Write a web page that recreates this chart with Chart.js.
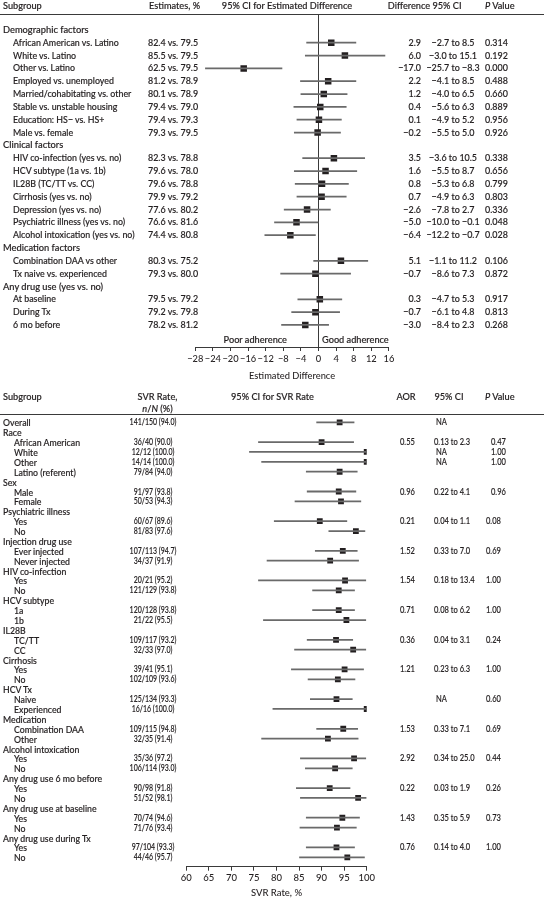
<!DOCTYPE html>
<html><head><meta charset="utf-8">
<script src="https://cdn.jsdelivr.net/npm/chart.js@4.4.1/dist/chart.umd.min.js"></script>
<style>
html,body{margin:0;padding:0;background:#fff;}
#wrap{position:relative;width:544px;height:900px;overflow:hidden;font-family:Lato,"Noto Sans",sans-serif;color:#231f20;font-weight:500;}
canvas{position:absolute;left:0;}
.t{position:absolute;white-space:nowrap;line-height:1;-webkit-text-stroke:0.15px #231f20;}
.rule{position:absolute;left:0;width:544px;height:1px;background:#3a3a3a;}
</style></head><body>
<div id="wrap">
<canvas id="cTop" width="544" height="400" style="top:0px"></canvas>
<canvas id="cBot" width="544" height="500" style="top:400px"></canvas>
</div>
<script>
// ---------------- DATA: top panel ----------------
const topLabels = ['Demographic factors','African American vs. Latino','White vs. Latino','Other vs. Latino','Employed vs. unemployed','Married/cohabitating vs. other','Stable vs. unstable housing','Education: HS\u2212 vs. HS+','Male vs. female','Clinical factors','HIV co-infection (yes vs. no)','HCV subtype (1a vs. 1b)','IL28B (TC/TT vs. CC)','Cirrhosis (yes vs. no)','Depression (yes vs. no)','Psychiatric illness (yes vs. no)','Alcohol intoxication (yes vs. no)','Medication factors','Combination DAA vs other','Tx naive vs. experienced','Any drug use (yes vs. no)','At baseline','During Tx','6 mo before'];
const topEstimates = ['','82.4 vs. 79.5','85.5 vs. 79.5','62.5 vs. 79.5','81.2 vs. 78.9','80.1 vs. 78.9','79.4 vs. 79.0','79.4 vs. 79.3','79.3 vs. 79.5','','82.3 vs. 78.8','79.6 vs. 78.0','79.6 vs. 78.8','79.9 vs. 79.2','77.6 vs. 80.2','76.6 vs. 81.6','74.4 vs. 80.8','','80.3 vs. 75.2','79.3 vs. 80.0','','79.5 vs. 79.2','79.2 vs. 79.8','78.2 vs. 81.2'];
const topDiff = [null,2.9,6.0,-17.0,2.2,1.2,0.4,0.1,-0.2,null,3.5,1.6,0.8,0.7,-2.6,-5.0,-6.4,null,5.1,-0.7,null,0.3,-0.7,-3.0];
const topLow  = [null,-2.7,-3.0,-25.7,-4.1,-4.0,-5.6,-4.9,-5.5,null,-3.6,-5.5,-5.3,-4.9,-7.8,-10.0,-12.2,null,-1.1,-8.6,null,-4.7,-6.1,-8.4];
const topHigh = [null,8.5,15.1,-8.3,8.5,6.5,6.3,5.2,5.0,null,10.5,8.7,6.8,6.3,2.7,-0.1,-0.7,null,11.2,7.3,null,5.3,4.8,2.3];
const topP = ['','0.314','0.192','0.000','0.488','0.660','0.889','0.956','0.926','','0.338','0.656','0.799','0.803','0.336','0.048','0.028','','0.106','0.872','','0.917','0.813','0.268'];
const topTickValues = [-28,-24,-20,-16,-12,-8,-4,0,4,8,12,16];

// ---------------- DATA: bottom panel ----------------
const botLabels = ['Overall','Race','African American','White','Other','Latino (referent)','Sex','Male','Female','Psychiatric illness','Yes','No','Injection drug use','Ever injected','Never injected','HIV co-infection','Yes','No','HCV subtype','1a','1b','IL28B','TC/TT','CC','Cirrhosis','Yes','No','HCV Tx','Naive','Experienced','Medication','Combination DAA','Other','Alcohol intoxication','Yes','No','Any drug use 6 mo before','Yes','No','Any drug use at baseline','Yes','No','Any drug use during Tx','Yes','No'];
const botLevel = [0,0,1,1,1,1,0,1,1,0,1,1,0,1,1,0,1,1,0,1,1,0,1,1,0,1,1,0,1,1,0,1,1,0,1,1,0,1,1,0,1,1,0,1,1];
const botSVR = ['141/150 (94.0)','','36/40 (90.0)','12/12 (100.0)','14/14 (100.0)','79/84 (94.0)','','91/97 (93.8)','50/53 (94.3)','','60/67 (89.6)','81/83 (97.6)','','107/113 (94.7)','34/37 (91.9)','','20/21 (95.2)','121/129 (93.8)','','120/128 (93.8)','21/22 (95.5)','','109/117 (93.2)','32/33 (97.0)','','39/41 (95.1)','102/109 (93.6)','','125/134 (93.3)','16/16 (100.0)','','109/115 (94.8)','32/35 (91.4)','','35/36 (97.2)','106/114 (93.0)','','90/98 (91.8)','51/52 (98.1)','','70/74 (94.6)','71/76 (93.4)','','97/104 (93.3)','44/46 (95.7)'];
const botRate = [94.0,null,90.0,100.0,100.0,94.0,null,93.8,94.3,null,89.6,97.6,null,94.7,91.9,null,95.2,93.8,null,93.8,95.5,null,93.2,97.0,null,95.1,93.6,null,93.3,100.0,null,94.8,91.4,null,97.2,93.0,null,91.8,98.1,null,94.6,93.4,null,93.3,95.7];
const botLow  = [88.9,null,76.0,74.0,76.7,86.6,null,86.8,84.1,null,79.5,91.6,null,88.6,77.9,null,76.0,88.0,null,88.0,77.1,null,86.8,84.0,null,83.3,87.0,null,87.5,79.2,null,88.9,76.7,null,85.3,86.4,null,84.4,85.3,null,86.6,85.2,null,86.6,85.1];
const botHigh = [97.2,null,97.1,100.0,100.0,97.9,null,97.6,98.7,null,95.6,99.6,null,97.9,98.2,null,99.8,97.3,null,97.3,99.8,null,96.9,99.8,null,99.3,97.4,null,96.8,100.0,null,98.0,98.1,null,99.8,96.8,null,96.3,99.9,null,98.4,97.7,null,97.3,99.5];
const botAOR = ['','','0.55','','','','','0.96','','','0.21','','','1.52','','','1.54','','','0.71','','','0.36','','','1.21','','','','','','1.53','','','2.92','','','0.22','','','1.43','','','0.76',''];
const botCI  = ['NA','','0.13 to 2.3','NA','NA','','','0.22 to 4.1','','','0.04 to 1.1','','','0.33 to 7.0','','','0.18 to 13.4','','','0.08 to 6.2','','','0.04 to 3.1','','','0.23 to 6.3','','','NA','','','0.33 to 7.1','','','0.34 to 25.0','','','0.03 to 1.9','','','0.35 to 5.9','','','0.14 to 4.0',''];
const botP   = ['','','0.47','1.00','1.00','','','0.96','','','0.08','','','0.69','','','1.00','','','1.00','','','0.24','','','1.00','','','0.60','','','0.69','','','0.44','','','0.26','','','0.73','','','1.00',''];
const botTickValues = [60,65,70,75,80,85,90,95,100];

// ---------------- layout ----------------
const INK = '#231f20', CI_COL = '#6a6a6a', AXIS = '#3a3a3a';
Chart.defaults.font.family = 'Lato, "Noto Sans", sans-serif';
Chart.defaults.color = INK;
const wrap = document.getElementById('wrap');
const minus = v => (v < 0 ? '\u2212' : '') + Math.abs(v).toFixed(1);

function txt(html, x, y, size, align, sx) {
  const d = document.createElement('div');
  d.className = 't';
  d.innerHTML = html;
  d.style.left = x + 'px';
  d.style.top = y + 'px';
  d.style.fontSize = size + 'px';
  const tx = align === 'c' ? '-50%' : align === 'r' ? '-100%' : '0';
  d.style.transformOrigin = align === 'c' ? 'center' : align === 'r' ? 'right' : 'left';
  d.style.transform = 'translate(' + tx + ',-50%)' + (sx ? ' scaleX(' + sx + ')' : '');
  wrap.appendChild(d);
}
function rule(y) { const r = document.createElement('div'); r.className = 'rule'; r.style.top = y + 'px'; wrap.appendChild(r); }

function makeForest(canvasId, cfg) {
  const rowsMin = -(cfg.row0 - cfg.areaTop) / cfg.rowH;
  const rowsMax = rowsMin + (cfg.areaBottom - cfg.areaTop) / cfg.rowH;
  const ci = [], pts = [];
  cfg.est.forEach((v, i) => {
    if (v === null) return;
    ci.push({ y: i, x: [cfg.lo[i], cfg.hi[i]] });
    pts.push({ x: v, y: i });
  });
  const canvasH = document.getElementById(canvasId).height;
  return new Chart(document.getElementById(canvasId), {
    type: 'scatter',
    data: { datasets: [
      { type: 'bar', indexAxis: 'y', data: ci, backgroundColor: CI_COL, barThickness: 1.1, borderWidth: 0, grouped: false },
      { type: 'scatter', data: pts, pointStyle: 'rect', pointRadius: cfg.ptR, backgroundColor: INK, borderWidth: 0 }
    ]},
    options: {
      responsive: false, animation: false, events: [],
      layout: { padding: { left: cfg.left, right: 544 - cfg.right, top: cfg.areaTop, bottom: 0 } },
      plugins: { legend: { display: false }, tooltip: { enabled: false } },
      scales: {
        x: {
          type: 'linear', min: cfg.ticks[0], max: cfg.ticks[cfg.ticks.length - 1], offset: false,
          afterBuildTicks: s => { s.ticks = cfg.ticks.map(v => ({ value: v })); },
          afterFit: s => { s.height = canvasH - cfg.areaBottom; },
          ticks: { font: { size: cfg.tickSize, weight: 500 }, color: INK, padding: 2, maxRotation: 0, autoSkip: false,
                   callback: v => (v < 0 ? '\u2212' + Math.abs(v) : '' + v) },
          grid: { drawOnChartArea: cfg.zeroLine, drawTicks: true, tickLength: 4, tickColor: AXIS, lineWidth: 1,
                  color: c => (cfg.zeroLine && c.tick && c.tick.value === 0) ? AXIS : 'rgba(0,0,0,0)' },
          border: { display: true, color: AXIS, width: 1 },
          title: { display: true, text: cfg.title, font: { size: cfg.tickSize, weight: 500 }, color: INK, padding: { top: 0, bottom: cfg.titlePad } }
        },
        y: { type: 'linear', reverse: true, offset: false, min: rowsMin, max: rowsMax, display: false }
      }
    }
  });
}

// ---- top chart ----
const TOP = { row0: 29.9, rowH: 12.83, areaTop: 14.3, areaBottom: 347, left: 195.3, right: 388.9 };
const chartTop = makeForest('cTop', Object.assign({}, TOP, {
  est: topDiff, lo: topLow, hi: topHigh, ticks: topTickValues, zeroLine: true, ptR: 4.6,
  tickSize: 9.3, title: 'Estimated Difference', titlePad: 18 }));

// ---- bottom chart ----
const BOT_OFF = 400;
const BOT = { row0: 22.3, rowH: 9.886, areaTop: 14.3, areaBottom: 466.7, left: 186.3, right: 366.7 };
const chartBot = makeForest('cBot', Object.assign({}, BOT, {
  est: botRate, lo: botLow, hi: botHigh, ticks: botTickValues, zeroLine: false, ptR: 4.1,
  tickSize: 9.5, title: 'SVR Rate, %', titlePad: 1 }));

// ---------------- text columns ----------------
const HS = 9.2, TS = 9.3, BS = 9, BN = 9.2, NUMX = 0.76;
// top header
txt('Subgroup', 3, 6, HS, 'l');
txt('Estimates, %', 149, 6, HS, 'l');
txt('95% CI for Estimated Difference', 287, 6, HS, 'c');
txt('Difference', 409, 6, HS, 'c');
txt('95% CI', 447, 6, HS, 'c');
txt('<i>P</i> Value', 485, 6, HS, 'l');
rule(14);
const ysT = chartTop.scales.y;
topLabels.forEach((lab, i) => {
  const y = ysT.getPixelForValue(i);
  const isHead = topDiff[i] === null;
  txt(lab, isHead ? 3 : 13, y, TS, 'l', isHead ? 0 : 0.95);
  if (isHead) return;
  txt(topEstimates[i], 148, y, TS, 'l', 0.96);
  txt(minus(topDiff[i]), 421, y, TS, 'r', 0.96);
  txt(minus(topLow[i]) + ' to ' + minus(topHigh[i]), 453, y, TS, 'c', 0.96);
  txt(topP[i], 485, y, TS, 'l', 0.96);
});
txt('Poor adherence', 287, 339.5, 9.2, 'r');
txt('Good adherence', 322, 339.5, 9.2, 'l');

// bottom header
txt('Subgroup', 3, 397, HS, 'l');
txt('SVR Rate,', 157.5, 397, HS, 'c');
txt('<i>n</i>/<i>N</i> (%)', 157.5, 409, HS, 'c');
txt('95% CI for SVR Rate', 272.5, 397, HS, 'c');
txt('AOR', 406, 397, HS, 'c');
txt('95% CI', 449, 397, HS, 'c');
txt('<i>P</i> Value', 485, 397, HS, 'l');
rule(414);
const ysB = chartBot.scales.y;
botLabels.forEach((lab, i) => {
  const y = BOT_OFF + ysB.getPixelForValue(i);
  txt(lab, botLevel[i] ? 14 : 3, y, BS, 'l', 0.97);
  if (botSVR[i]) txt(botSVR[i], 153, y, BN, 'c', NUMX);
  if (botAOR[i]) txt(botAOR[i], 400, y, BN, 'l', 0.82);
  if (botCI[i]) txt(botCI[i], botCI[i] === 'NA' ? 436 : 434, y, BN, 'l', 0.82);
  if (botP[i]) txt(botP[i], i < 8 ? 491 : 486, y, BN, 'l', 0.82);
});
</script>
</body></html>
